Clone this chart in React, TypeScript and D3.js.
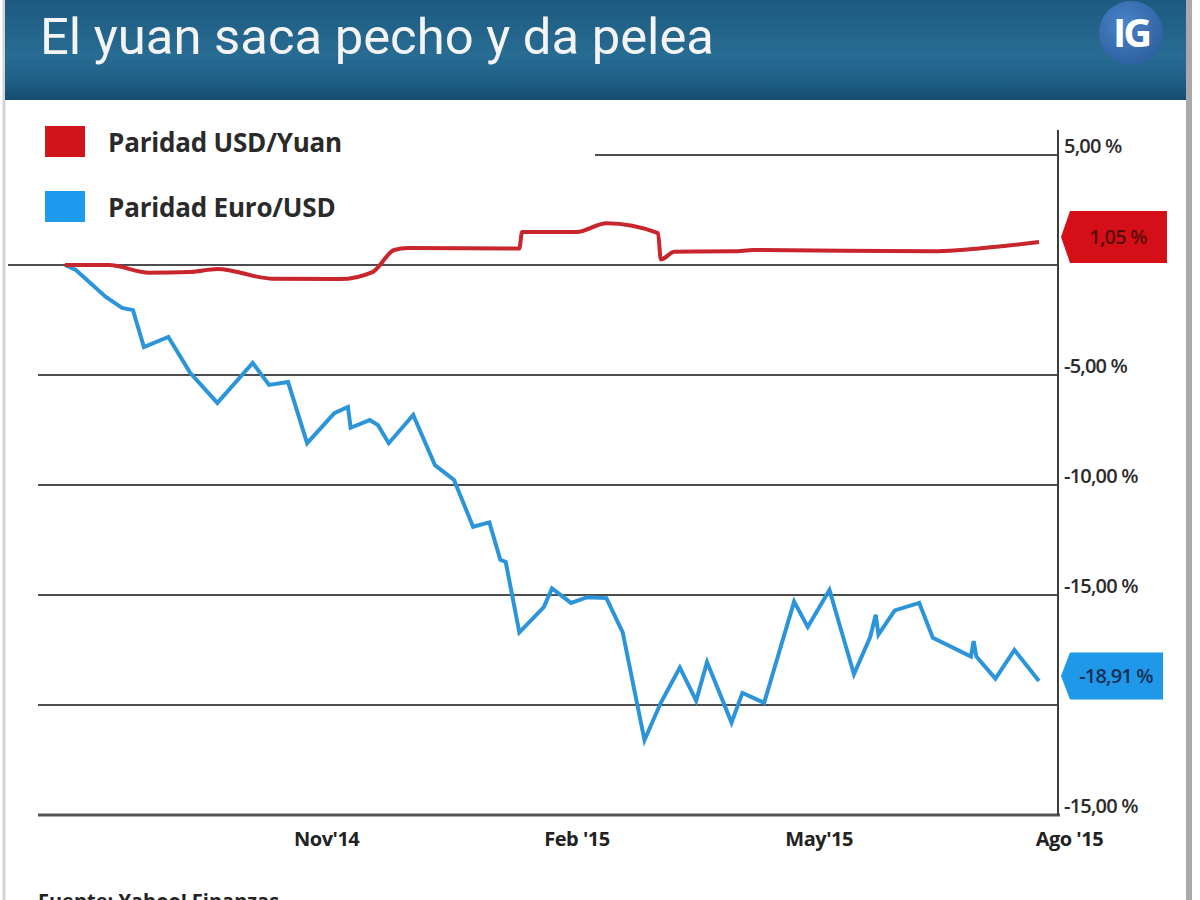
import React, { useRef, useEffect } from 'react';
import * as d3 from 'd3';

// days counted from 28 Jul 2014
const startDate = new Date(2014, 6, 28);
const endDate = new Date(2015, 6, 28);

const yuanDays = [0, 16, 31, 46, 56, 76, 101, 113, 121, 126, 167, 168, 188, 199, 218, 219, 224, 246, 253, 319, 344, 358];
const yuanValues = [0, 0, -0.35, -0.32, -0.18, -0.62, -0.64, -0.32, 0.68, 0.77, 0.75, 1.5, 1.5, 1.9, 1.45, 0.25, 0.6, 0.62, 0.68, 0.62, 0.85, 1.05];

const euroDays = [0, 4, 15, 21, 25, 29, 38, 46, 56, 69, 75, 82, 89, 99, 104, 105, 112, 115, 119, 128, 136, 143, 150, 156, 160, 162, 167, 176, 179, 186, 192, 199, 205, 213, 219, 226, 232, 236, 245, 249, 257, 268, 273, 281, 290, 296, 298, 299, 305, 314, 319, 333, 334, 335, 342, 349, 358];
const euroValues = [0, -0.23, -1.45, -1.95, -2.05, -3.73, -3.27, -4.9, -6.27, -4.45, -5.45, -5.32, -8.1, -6.73, -6.45, -7.4, -7.05, -7.27, -8.1, -6.82, -9.1, -9.77, -11.9, -11.7, -13.4, -13.5, -16.7, -15.55, -14.7, -15.36, -15.1, -15.14, -16.7, -21.6, -19.9, -18.3, -19.8, -18.05, -20.8, -19.45, -19.9, -15.3, -16.45, -14.77, -18.6, -16.9, -15.9, -16.8, -15.7, -15.36, -16.95, -17.8, -17.1, -17.8, -18.8, -17.5, -18.91];

const yTicks = [5, 0, -5, -10, -15, -20, -25];
const yTickLabels = ['5,00 %', '', '-5,00 %', '-10,00 %', '-15,00 %', '', '-15,00 %'];

const xTickDates = [new Date(2014, 10, 1), new Date(2015, 1, 1), new Date(2015, 4, 1), new Date(2015, 7, 1)];
const xTickLabels = ["Nov'14", "Feb '15", "May'15", "Ago '15"];

const seriesNames = ['Paridad USD/Yuan', 'Paridad Euro/USD'];
const lastLabels = ['1,05 %', '-18,91 %'];

const RED = '#c8262c';
const BLUE = '#2c95da';

const App = () => {
  const svgRef = useRef(null);

  useEffect(() => {
    const svg = d3.select(svgRef.current);
    svg.selectAll('*').remove();
    const font = "'Open Sans', 'Noto Sans', sans-serif";

    const x = d3.scaleTime().domain([startDate, endDate]).range([65, 1058]);
    const y = d3.scaleLinear().domain([-25, 5]).range([815, 155]);

    // page background + card frame
    svg.append('rect').attr('width', 1200).attr('height', 900).attr('fill', '#fff');
    svg.append('line').attr('x1', 4).attr('x2', 4).attr('y1', 0).attr('y2', 900)
      .attr('stroke', '#d4d4d4').attr('stroke-width', 3);
    svg.append('line').attr('x1', 1189).attr('x2', 1189).attr('y1', 0).attr('y2', 900)
      .attr('stroke', '#a9a9a9').attr('stroke-width', 6);

    // header
    const defs = svg.append('defs');
    const grad = defs.append('linearGradient').attr('id', 'hdr').attr('x1', 0).attr('x2', 0).attr('y1', 0).attr('y2', 1);
    grad.append('stop').attr('offset', '0%').attr('stop-color', '#1d5a80');
    grad.append('stop').attr('offset', '55%').attr('stop-color', '#286c93');
    grad.append('stop').attr('offset', '82%').attr('stop-color', '#1f5f86');
    grad.append('stop').attr('offset', '100%').attr('stop-color', '#164c6c');
    svg.append('rect').attr('x', 5).attr('y', 0).attr('width', 1181).attr('height', 100).attr('fill', 'url(#hdr)');

    svg.append('text')
      .attr('x', 40).attr('y', 54)
      .attr('fill', '#f4f4f4')
      .attr('font-family', "Roboto, 'Liberation Sans Narrow', sans-serif")
      .attr('font-size', 50)
      .attr('textLength', 674)
      .attr('lengthAdjust', 'spacingAndGlyphs')
      .text('El yuan saca pecho y da pelea');

    const ig = defs.append('radialGradient').attr('id', 'ig').attr('cx', '40%').attr('cy', '35%').attr('r', '70%');
    ig.append('stop').attr('offset', '0%').attr('stop-color', '#4a82c8');
    ig.append('stop').attr('offset', '100%').attr('stop-color', '#2d5f9f');
    svg.append('circle').attr('cx', 1131).attr('cy', 33).attr('r', 32).attr('fill', 'url(#ig)');
    svg.append('text').attr('x', 1131).attr('y', 47).attr('text-anchor', 'middle')
      .attr('fill', '#fff').attr('font-family', font).attr('font-weight', 700)
      .attr('font-size', 40).attr('letter-spacing', -3).text('IG');

    // legend
    const legendColors = ['#d0161b', '#1e9bef'];
    seriesNames.forEach((name, i) => {
      svg.append('rect').attr('x', 45).attr('y', 126 + i * 65).attr('width', 40).attr('height', 31)
        .attr('fill', legendColors[i]);
      svg.append('text').attr('x', 108).attr('y', 152 + i * 65)
        .attr('font-family', font).attr('font-weight', 700).attr('font-size', 26)
        .attr('fill', '#2a2a2a').attr('letter-spacing', -0.2).text(name);
    });

    // grid lines
    yTicks.slice(0, -1).forEach((t, i) => {
      const x0 = i === 0 ? 595 : t === 0 ? 8 : 38;
      svg.append('line').attr('x1', x0).attr('x2', 1058).attr('y1', y(t)).attr('y2', y(t))
        .attr('stroke', '#4d4d4d').attr('stroke-width', 2);
    });
    // bottom axis line
    svg.append('line').attr('x1', 38).attr('x2', 1060).attr('y1', y(-25)).attr('y2', y(-25))
      .attr('stroke', '#555').attr('stroke-width', 3);
    // right axis line
    svg.append('line').attr('x1', 1058).attr('x2', 1058).attr('y1', 130).attr('y2', y(-25))
      .attr('stroke', '#3c3c3c').attr('stroke-width', 2);

    // right tick labels
    const yAxis = svg.append('g').attr('transform', 'translate(1058,0)')
      .call(d3.axisRight(y).tickValues(yTicks).tickSize(0).tickPadding(6)
        .tickFormat((d, i) => yTickLabels[i]));
    yAxis.select('.domain').remove();
    yAxis.selectAll('text')
      .attr('dy', '-0.12em')
      .attr('font-family', font).attr('font-weight', 600).attr('font-size', 20).attr('fill', '#2b2b2b')
      .attr('letter-spacing', -0.8);

    // bottom tick labels
    const xAxis = svg.append('g').attr('transform', `translate(0,${y(-25)})`)
      .call(d3.axisBottom(x).tickValues(xTickDates).tickSize(0).tickPadding(17)
        .tickFormat((d, i) => xTickLabels[i]));
    xAxis.select('.domain').remove();
    xAxis.selectAll('text')
      .attr('font-family', font).attr('font-weight', 700).attr('font-size', 20)
      .attr('fill', '#222').attr('letter-spacing', -0.5);

    // lines
    const toDate = (d) => d3.timeDay.offset(startDate, d);
    const yuan = yuanDays.map((d, i) => [toDate(d), yuanValues[i]]);
    const euro = euroDays.map((d, i) => [toDate(d), euroValues[i]]);

    const line = d3.line().x(d => x(d[0])).y(d => y(d[1]));

    svg.append('path').datum(euro)
      .attr('fill', 'none').attr('stroke', BLUE).attr('stroke-width', 4)
      .attr('stroke-linejoin', 'miter').attr('d', line);
    svg.append('path').datum(yuan)
      .attr('fill', 'none').attr('stroke', RED).attr('stroke-width', 4)
      .attr('stroke-linejoin', 'round')
      .attr('d', line.curve(d3.curveMonotoneX));

    // end value badges
    const badgeFill = ['#d40f18', '#1f98ea'];
    const badgeText = ['#5b0b0b', '#0e2e52'];
    const lastVals = [yuanValues[yuanValues.length - 1], euroValues[euroValues.length - 1]];
    lastVals.forEach((v, i) => {
      const cy = y(v) - 5;
      const h = i === 0 ? 52 : 47;
      const w = i === 0 ? 106 : 102;
      const x0 = 1061;
      svg.append('path')
        .attr('d', `M${x0},${cy} L${x0 + 9},${cy - h / 2} L${x0 + w},${cy - h / 2} L${x0 + w},${cy + h / 2} L${x0 + 9},${cy + h / 2} Z`)
        .attr('fill', badgeFill[i]);
      svg.append('text').attr('x', x0 + 8 + (w - 8) / 2).attr('y', cy + 7)
        .attr('text-anchor', 'middle').attr('font-family', font).attr('font-weight', 600)
        .attr('font-size', 20)
        .attr('letter-spacing', -0.8).attr('fill', badgeText[i]).text(lastLabels[i]);
    });

    // source (cut by the bottom edge, as in the original)
    svg.append('text').attr('x', 38).attr('y', 908)
      .attr('font-family', font).attr('font-weight', 700).attr('font-size', 20)
      .attr('fill', '#222').text('Fuente: Yahoo! Finanzas');
  }, []);

  return (
    <svg ref={svgRef} width="1200" height="900"
      style={{ position: 'absolute', left: 0, top: 0, display: 'block' }}></svg>
  );
};

export default App;
